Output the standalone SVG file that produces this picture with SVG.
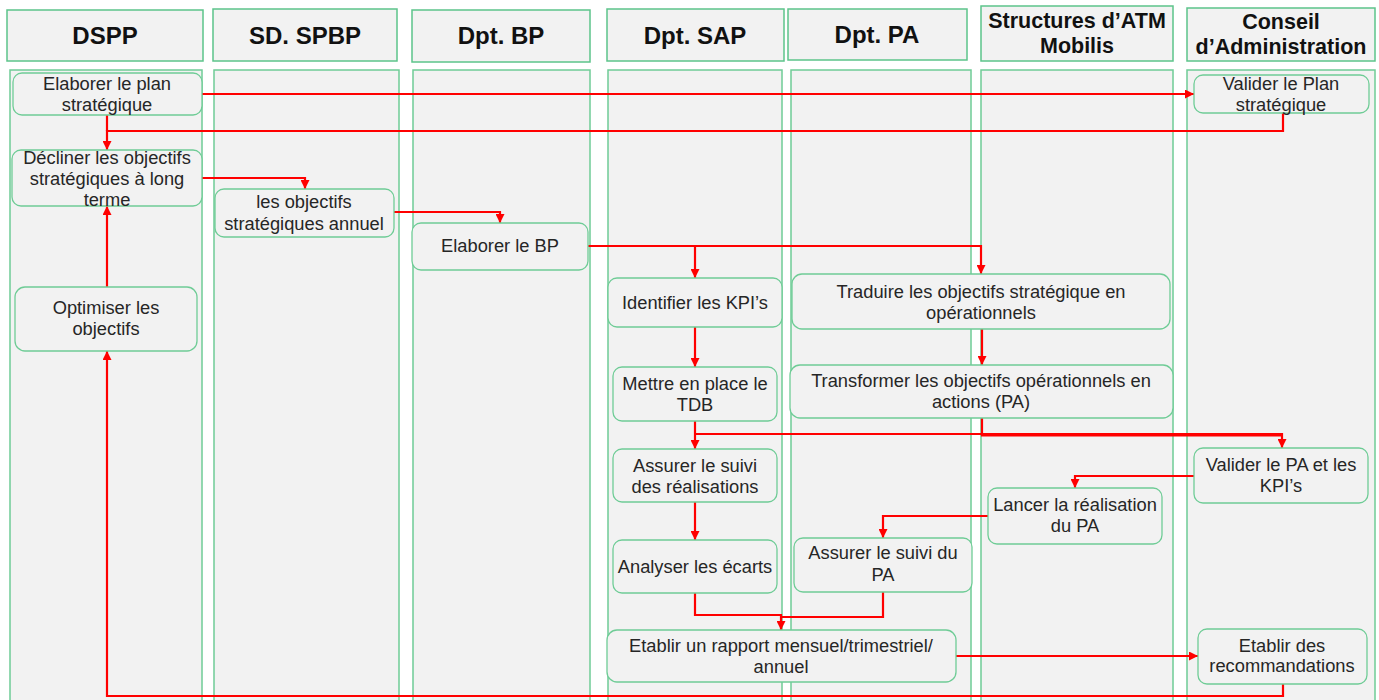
<svg xmlns="http://www.w3.org/2000/svg" width="1379" height="700" viewBox="0 0 1379 700">
  <defs>
    <marker id="arrow" viewBox="0 0 10 10" refX="10" refY="5" markerWidth="9" markerHeight="9" markerUnits="userSpaceOnUse" orient="auto">
      <path d="M0,0 L10,5 L0,10 z" fill="#ff0000"/>
    </marker>
    <style>
      .lane { fill: #f2f2f2; stroke: #6fcc96; stroke-width: 1.5; }
      .head { fill: #f2f2f2; stroke: #5cc48a; stroke-width: 1.5; }
      .node { fill: #f2f2f2; stroke: #6fcc96; stroke-width: 1.3; }
      .ht { font-family: "Liberation Sans", Arial, sans-serif; font-weight: bold; fill: #111; text-anchor: middle; }
      .h1 { font-size: 24px; }
      .h2 { font-size: 21.5px; }
      .nt { font-family: "Liberation Sans", Arial, sans-serif; font-size: 18.3px; fill: #262626; text-anchor: middle; }
      .conn { fill: none; stroke: #ff0000; stroke-width: 2.2; }
      .arr { marker-end: url(#arrow); }
    </style>
  </defs>

  <rect width="1379" height="700" fill="#ffffff"/>

  <!-- swimlane bodies -->
  <g id="lanes">
    <rect class="lane" x="10" y="70" width="192" height="640"/>
    <rect class="lane" x="214" y="70" width="185" height="640"/>
    <rect class="lane" x="413" y="70" width="177" height="640"/>
    <rect class="lane" x="608" y="70" width="174" height="640"/>
    <rect class="lane" x="791" y="70" width="180" height="640"/>
    <rect class="lane" x="981" y="70" width="192" height="640"/>
    <rect class="lane" x="1187" y="70" width="188" height="640"/>
  </g>

  <!-- swimlane headers -->
  <g id="headers">
    <g id="h-dspp">
      <rect class="head" x="7" y="10" width="196" height="51"/>
      <text class="ht h1" x="105" y="44">DSPP</text>
    </g>
    <g id="h-spbp">
      <rect class="head" x="213" y="9" width="184" height="52"/>
      <text class="ht h1" x="305" y="44">SD. SPBP</text>
    </g>
    <g id="h-bp">
      <rect class="head" x="412" y="10" width="178" height="52"/>
      <text class="ht h1" x="501" y="44">Dpt. BP</text>
    </g>
    <g id="h-sap">
      <rect class="head" x="607" y="9" width="177" height="52"/>
      <text class="ht h1" x="695" y="44">Dpt. SAP</text>
    </g>
    <g id="h-pa">
      <rect class="head" x="788" y="9" width="179" height="51"/>
      <text class="ht h1" x="877" y="43">Dpt. PA</text>
    </g>
    <g id="h-atm">
      <rect class="head" x="981" y="6" width="192" height="55"/>
      <text class="ht h2" x="1077" y="28">Structures d’ATM</text>
      <text class="ht h2" x="1077" y="53">Mobilis</text>
    </g>
    <g id="h-ca">
      <rect class="head" x="1187" y="8" width="188" height="53"/>
      <text class="ht h2" x="1281" y="29">Conseil</text>
      <text class="ht h2" x="1281" y="54">d’Administration</text>
    </g>
  </g>

  <!-- connectors -->
  <g id="connectors">
    <path class="conn arr" d="M202,94 H1194"/>
    <path class="conn arr" d="M1283,113 V131 H107 V150"/>
    <path class="conn" d="M107,115 V131"/>
    <path class="conn arr" d="M202,178 H305 V189"/>
    <path class="conn arr" d="M394,212 H500 V223"/>
    <path class="conn arr" d="M588,246 H981 V274"/>
    <path class="conn arr" d="M695,246 V278"/>
    <path class="conn arr" d="M695,327 V367"/>
    <path class="conn arr" d="M982,329 V365"/>
    <path class="conn arr" d="M695,421 V449"/>
    <path class="conn arr" d="M695,434 H1282 V448"/>
    <path class="conn" d="M982,418 V435.5 H1282"/>
    <path class="conn arr" d="M695,502 V540"/>
    <path class="conn arr" d="M1194,476 H1075 V488"/>
    <path class="conn arr" d="M988,516 H883 V538"/>
    <path class="conn arr" d="M695,593 V615 H781 V630"/>
    <path class="conn" d="M883,592 V617 H781"/>
    <path class="conn arr" d="M956,656 H1198"/>
    <path class="conn arr" d="M1283,684 V696 H107 V351"/>
    <path class="conn arr" d="M107,287 V206"/>
  </g>

  <!-- process steps -->
  <g id="n-elaborer-plan">
    <rect class="node" x="13" y="73" width="189" height="42" rx="9"/>
    <text class="nt" x="107" y="90">Elaborer le plan</text>
    <text class="nt" x="107" y="111">stratégique</text>
  </g>
  <g id="n-valider-plan">
    <rect class="node" x="1194" y="75" width="175" height="38" rx="9"/>
    <text class="nt" x="1281" y="90">Valider le Plan</text>
    <text class="nt" x="1281" y="111">stratégique</text>
  </g>
  <g id="n-decliner">
    <rect class="node" x="12" y="150" width="190" height="56" rx="9"/>
    <text class="nt" x="107" y="164">Décliner les objectifs</text>
    <text class="nt" x="107" y="185">stratégiques à long</text>
    <text class="nt" x="107" y="206">terme</text>
  </g>
  <g id="n-annuel">
    <rect class="node" x="215" y="189" width="179" height="48" rx="9"/>
    <text class="nt" x="304" y="208">les objectifs</text>
    <text class="nt" x="304" y="230">stratégiques annuel</text>
  </g>
  <g id="n-elaborer-bp">
    <rect class="node" x="412" y="223" width="176" height="47" rx="9"/>
    <text class="nt" x="500" y="252">Elaborer le BP</text>
  </g>
  <g id="n-optimiser">
    <rect class="node" x="15" y="287" width="182" height="64" rx="10"/>
    <text class="nt" x="106" y="314">Optimiser les</text>
    <text class="nt" x="106" y="335">objectifs</text>
  </g>
  <g id="n-kpi">
    <rect class="node" x="608" y="278" width="174" height="49" rx="9"/>
    <text class="nt" x="695" y="309">Identifier les KPI’s</text>
  </g>
  <g id="n-traduire">
    <rect class="node" x="792" y="274" width="378" height="55" rx="10"/>
    <text class="nt" x="981" y="298">Traduire les objectifs stratégique en</text>
    <text class="nt" x="981" y="319">opérationnels</text>
  </g>
  <g id="n-tdb">
    <rect class="node" x="613" y="367" width="164" height="54" rx="9"/>
    <text class="nt" x="695" y="390">Mettre en place le</text>
    <text class="nt" x="695" y="411">TDB</text>
  </g>
  <g id="n-transformer">
    <rect class="node" x="790" y="365" width="383" height="53" rx="10"/>
    <text class="nt" x="981" y="387">Transformer les objectifs opérationnels en</text>
    <text class="nt" x="981" y="408">actions (PA)</text>
  </g>
  <g id="n-suivi-real">
    <rect class="node" x="613" y="449" width="164" height="53" rx="9"/>
    <text class="nt" x="695" y="472">Assurer le suivi</text>
    <text class="nt" x="695" y="493">des réalisations</text>
  </g>
  <g id="n-valider-pa">
    <rect class="node" x="1194" y="448" width="174" height="55" rx="9"/>
    <text class="nt" x="1281" y="471">Valider le PA et les</text>
    <text class="nt" x="1281" y="492">KPI’s</text>
  </g>
  <g id="n-lancer">
    <rect class="node" x="988" y="488" width="174" height="56" rx="9"/>
    <text class="nt" x="1075" y="511">Lancer la réalisation</text>
    <text class="nt" x="1075" y="532">du PA</text>
  </g>
  <g id="n-ecarts">
    <rect class="node" x="613" y="540" width="164" height="53" rx="9"/>
    <text class="nt" x="695" y="573">Analyser les écarts</text>
  </g>
  <g id="n-suivi-pa">
    <rect class="node" x="794" y="538" width="178" height="54" rx="9"/>
    <text class="nt" x="883" y="559">Assurer le suivi du</text>
    <text class="nt" x="883" y="581">PA</text>
  </g>
  <g id="n-rapport">
    <rect class="node" x="607" y="630" width="349" height="52" rx="10"/>
    <text class="nt" x="781" y="652">Etablir un rapport mensuel/trimestriel/</text>
    <text class="nt" x="781" y="673">annuel</text>
  </g>
  <g id="n-recommandations">
    <rect class="node" x="1198" y="629" width="169" height="55" rx="9"/>
    <text class="nt" x="1282" y="652">Etablir des</text>
    <text class="nt" x="1282" y="672">recommandations</text>
  </g>
</svg>
